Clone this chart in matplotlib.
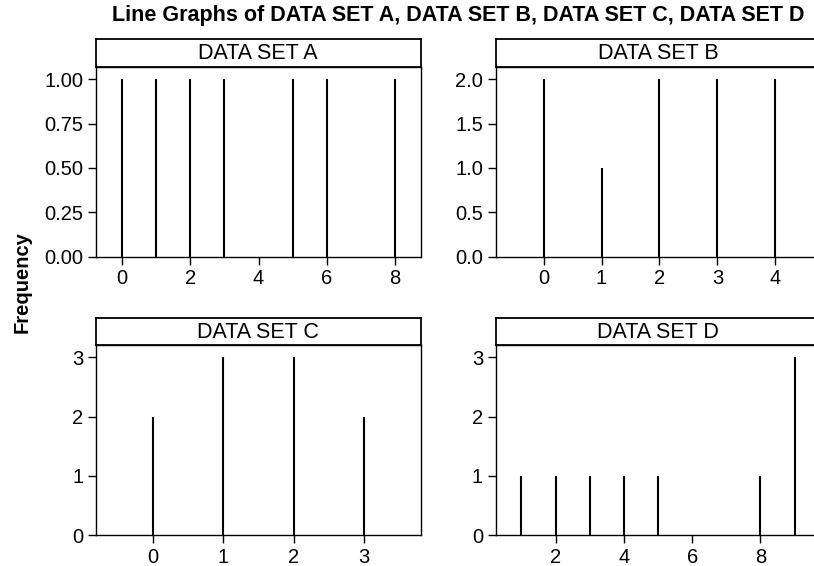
import matplotlib
matplotlib.use("Agg")
import matplotlib.pyplot as plt

plt.rcParams["font.family"] = ["Liberation Sans", "DejaVu Sans"]

# --- data ---
a_x = [0, 1, 2, 3, 5, 6, 8]
a_freq = [1, 1, 1, 1, 1, 1, 1]
b_x = [0, 1, 2, 3, 4]
b_freq = [2, 1, 2, 2, 2]
c_x = [0, 1, 2, 3]
c_freq = [2, 3, 3, 2]
d_x = [1, 2, 3, 4, 5, 8, 9]
d_freq = [1, 1, 1, 1, 1, 1, 3]

panels = [
    ("DATA SET A", a_x, a_freq, (-0.78, 8.76), (0, 1.07), [0, 2, 4, 6, 8],
     [0, 0.25, 0.5, 0.75, 1.0], "{:.2f}"),
    ("DATA SET B", b_x, b_freq, (-0.83, 4.78), (0, 2.14), [0, 1, 2, 3, 4],
     [0, 0.5, 1.0, 1.5, 2.0], "{:.1f}"),
    ("DATA SET C", c_x, c_freq, (-0.81, 3.80), (0, 3.2), [0, 1, 2, 3],
     [0, 1, 2, 3], "{:.0f}"),
    ("DATA SET D", d_x, d_freq, (0.24, 9.76), (0, 3.2), [2, 4, 6, 8],
     [0, 1, 2, 3], "{:.0f}"),
]

W, H = 814, 566
fig = plt.figure(figsize=(W / 100, H / 100), dpi=100)

# pixel boxes: (left, top) of plotting area
boxes = [(95.7, 66.7), (495.5, 66.7), (95.7, 345.3), (495.5, 345.3)]
pw, ph, hh = 325, 190, 27.5

for (title, xs, ys, xlim, ylim, xt, yt, fmt), (lx, ty) in zip(panels, boxes):
    ax = fig.add_axes([lx / W, 1 - (ty + ph) / H, pw / W, ph / H])
    ax.vlines(xs, 0, ys, color="black", linewidth=1.5)
    ax.set_xlim(*xlim)
    ax.set_ylim(*ylim)
    ax.set_xticks(xt)
    ax.set_yticks(yt)
    ax.set_yticklabels([fmt.format(v) for v in yt])
    ax.tick_params(direction="out", length=6, width=1, labelsize=14.5,
                   pad=3)
    for s in ax.spines.values():
        s.set_linewidth(1)

    hax = fig.add_axes([lx / W, 1 - ty / H, pw / W, hh / H])
    hax.set_xticks([])
    hax.set_yticks([])
    for s in hax.spines.values():
        s.set_linewidth(1.3)
    hax.text(0.5, 0.48, title, ha="center", va="center", fontsize=15.5,
             transform=hax.transAxes)

fig.suptitle("Line Graphs of DATA SET A, DATA SET B, DATA SET C, DATA SET D",
             x=458 / W, y=1 - 16 / H, va="center", fontsize=15.5,
             fontweight="bold")
fig.text(22 / W, 1 - 282 / H, "Frequency", rotation=90, ha="center",
         va="center", fontsize=14.5, fontweight="bold")

fig.savefig("out.png", dpi=100)
